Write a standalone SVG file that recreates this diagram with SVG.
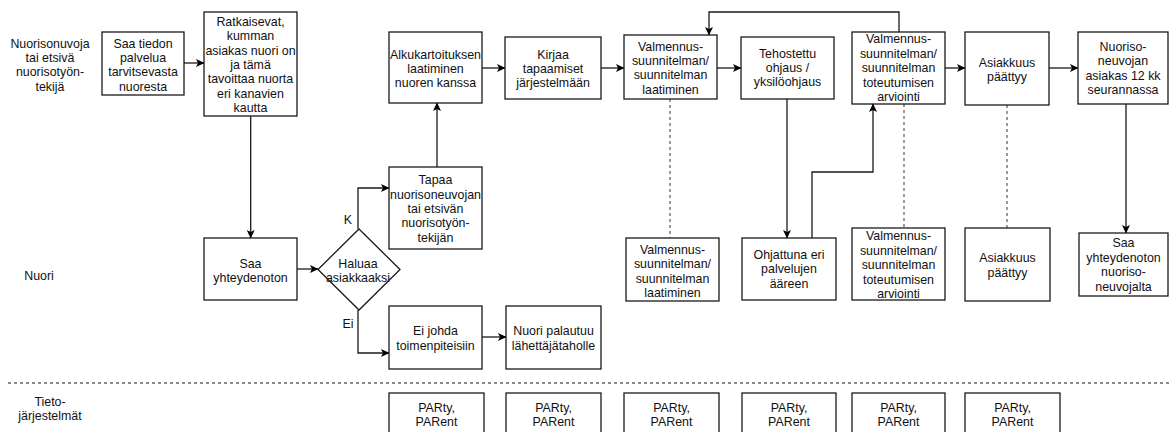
<svg xmlns="http://www.w3.org/2000/svg" width="1169" height="432" viewBox="0 0 1169 432">
  <style>
    .box { fill: #fff; stroke: #1a1a1a; stroke-width: 1.3; }
    .t { font-family: "Liberation Sans", Arial, sans-serif; font-size: 12.4px; fill: #111; text-anchor: middle; }
    .edge { fill: none; stroke: #1a1a1a; stroke-width: 1.3; }
    .dot { fill: none; stroke: #666; stroke-width: 1.3; stroke-dasharray: 3 3; }
  </style>
  <defs>
    <marker id="arrow" markerWidth="9" markerHeight="9" refX="8" refY="4.5" orient="auto" markerUnits="userSpaceOnUse">
      <path d="M0,0.5 L8.5,4.5 L0,8.5 L2,4.5 z" fill="#000"/>
    </marker>
  </defs>

  <rect width="1169" height="432" fill="#fff"/>

  <!-- lane labels -->
  <g id="lane-labels">
    <text class="t" x="50"><tspan x="50" y="47.5">Nuorisonuvoja</tspan><tspan x="50" y="61.9">tai etsivä</tspan><tspan x="50" y="76.3">nuorisotyön-</tspan><tspan x="50" y="90.7">tekijä</tspan></text>
    <text class="t" x="39" y="280">Nuori</text>
    <text class="t"><tspan x="50" y="406">Tieto-</tspan><tspan x="50" y="420">järjestelmät</tspan></text>
  </g>

  <!-- lane separator -->
  <line x1="8" y1="383" x2="1169" y2="383" class="dot"/>

  <!-- connectors -->
  <g id="connectors">
    <line x1="184" y1="63" x2="204" y2="63" class="edge" marker-end="url(#arrow)"/>
    <line x1="250.7" y1="116" x2="250.7" y2="238" class="edge" marker-end="url(#arrow)"/>
    <line x1="297" y1="269" x2="318" y2="269" class="edge" marker-end="url(#arrow)"/>
    <polyline points="358,229 358,188 389,188" class="edge" marker-end="url(#arrow)"/>
    <polyline points="358,310 358,353 389,353" class="edge" marker-end="url(#arrow)"/>
    <line x1="437" y1="167" x2="437" y2="103" class="edge" marker-end="url(#arrow)"/>
    <line x1="482" y1="337" x2="506" y2="337" class="edge" marker-end="url(#arrow)"/>
    <line x1="482" y1="68" x2="505" y2="68" class="edge" marker-end="url(#arrow)"/>
    <line x1="601" y1="68" x2="624" y2="68" class="edge" marker-end="url(#arrow)"/>
    <line x1="717" y1="68" x2="741" y2="68" class="edge" marker-end="url(#arrow)"/>
    <line x1="945" y1="68" x2="965" y2="68" class="edge" marker-end="url(#arrow)"/>
    <line x1="1049" y1="68" x2="1078" y2="68" class="edge" marker-end="url(#arrow)"/>
    <polyline points="899,32 899,12 709,12 709,35" class="edge" marker-end="url(#arrow)"/>
    <line x1="787" y1="99" x2="787" y2="238" class="edge" marker-end="url(#arrow)"/>
    <polyline points="812,238 812,172 873,172 873,104" class="edge" marker-end="url(#arrow)"/>
    <line x1="1126" y1="104" x2="1126" y2="233" class="edge" marker-end="url(#arrow)"/>
    <line x1="670" y1="99" x2="670" y2="238" class="dot"/>
    <line x1="904" y1="104" x2="904" y2="228" class="dot"/>
    <line x1="1007" y1="105" x2="1007" y2="228" class="dot"/>
  </g>

  <!-- youth worker lane -->
  <g id="saa-tiedon">
    <rect class="box" x="102" y="32" width="82" height="63"/>
    <text class="t"><tspan x="143" y="47.5">Saa tiedon</tspan><tspan x="143" y="61.9">palvelua</tspan><tspan x="143" y="76.3">tarvitsevasta</tspan><tspan x="143" y="90.7">nuoresta</tspan></text>
  </g>
  <g id="ratkaisevat">
    <rect class="box" x="204" y="12" width="93" height="104"/>
    <text class="t"><tspan x="250.5" y="25.7">Ratkaisevat,</tspan><tspan x="250.5" y="40.1">kumman</tspan><tspan x="250.5" y="54.5">asiakas nuori on</tspan><tspan x="250.5" y="68.9">ja tämä</tspan><tspan x="250.5" y="83.3">tavoittaa nuorta</tspan><tspan x="250.5" y="97.7">eri kanavien</tspan><tspan x="250.5" y="112.1">kautta</tspan></text>
  </g>
  <g id="alkukartoitus">
    <rect class="box" x="389" y="32" width="93" height="71"/>
    <text class="t"><tspan x="435.5" y="58.5">Alkukartoituksen</tspan><tspan x="435.5" y="72.9">laatiminen</tspan><tspan x="435.5" y="87.3">nuoren kanssa</tspan></text>
  </g>
  <g id="kirjaa">
    <rect class="box" x="505" y="37" width="96" height="62"/>
    <text class="t"><tspan x="553" y="58.5">Kirjaa</tspan><tspan x="553" y="72.9">tapaamiset</tspan><tspan x="553" y="87.3">järjestelmään</tspan></text>
  </g>
  <g id="valmennus-laatiminen">
    <rect class="box" x="624" y="35" width="93" height="64"/>
    <text class="t"><tspan x="670.5" y="50.6">Valmennus-</tspan><tspan x="670.5" y="65">suunnitelman/</tspan><tspan x="670.5" y="79.4">suunnitelman</tspan><tspan x="670.5" y="93.8">laatiminen</tspan></text>
  </g>
  <g id="tehostettu">
    <rect class="box" x="741" y="37" width="93" height="62"/>
    <text class="t"><tspan x="787.5" y="57.5">Tehostettu</tspan><tspan x="787.5" y="71.9">ohjaus /</tspan><tspan x="787.5" y="86.3">yksilöohjaus</tspan></text>
  </g>
  <g id="valmennus-arviointi">
    <rect class="box" x="852" y="32" width="93" height="72"/>
    <text class="t"><tspan x="898.5" y="43.3">Valmennus-</tspan><tspan x="898.5" y="57.7">suunnitelman/</tspan><tspan x="898.5" y="72.1">suunnitelman</tspan><tspan x="898.5" y="86.5">toteutumisen</tspan><tspan x="898.5" y="100.9">arviointi</tspan></text>
  </g>
  <g id="asiakkuus-paattyy">
    <rect class="box" x="965" y="32" width="84" height="73"/>
    <text class="t"><tspan x="1007" y="66.8">Asiakkuus</tspan><tspan x="1007" y="81.2">päättyy</tspan></text>
  </g>
  <g id="seuranta">
    <rect class="box" x="1078" y="32" width="90" height="72"/>
    <text class="t"><tspan x="1123" y="50.8">Nuoriso-</tspan><tspan x="1123" y="65.2">neuvojan</tspan><tspan x="1123" y="79.6">asiakas 12 kk</tspan><tspan x="1123" y="94">seurannassa</tspan></text>
  </g>

  <!-- youth lane -->
  <g id="saa-yhteydenoton">
    <rect class="box" x="204" y="238" width="93" height="62"/>
    <text class="t"><tspan x="250.5" y="267.5">Saa</tspan><tspan x="250.5" y="281.9">yhteydenoton</tspan></text>
  </g>
  <g id="haluaa-asiakkaaksi">
    <polygon class="box" points="359,229 400,269.5 359,310 318,269.5"/>
    <text class="t"><tspan x="358" y="267.5">Haluaa</tspan><tspan x="358" y="281.9">asiakkaaksi</tspan></text>
    <text class="t" x="348" y="223.5">K</text>
    <text class="t" x="348" y="327.5">Ei</text>
  </g>
  <g id="tapaa">
    <rect class="box" x="389" y="167" width="93" height="82"/>
    <text class="t"><tspan x="435.5" y="184.2">Tapaa</tspan><tspan x="435.5" y="198.6">nuorisoneuvojan</tspan><tspan x="435.5" y="213">tai etsivän</tspan><tspan x="435.5" y="227.4">nuorisotyön-</tspan><tspan x="435.5" y="241.8">tekijän</tspan></text>
  </g>
  <g id="ei-johda">
    <rect class="box" x="389" y="306" width="93" height="63"/>
    <text class="t"><tspan x="435.5" y="335.2">Ei johda</tspan><tspan x="435.5" y="349.6">toimenpiteisiin</tspan></text>
  </g>
  <g id="palautuu">
    <rect class="box" x="506" y="306" width="95" height="63"/>
    <text class="t"><tspan x="553.5" y="335.2">Nuori palautuu</tspan><tspan x="553.5" y="349.6">lähettäjätaholle</tspan></text>
  </g>
  <g id="nuori-valmennus-laatiminen">
    <rect class="box" x="626" y="238" width="93" height="63"/>
    <text class="t"><tspan x="672.5" y="253.8">Valmennus-</tspan><tspan x="672.5" y="268.2">suunnitelman/</tspan><tspan x="672.5" y="282.6">suunnitelman</tspan><tspan x="672.5" y="297">laatiminen</tspan></text>
  </g>
  <g id="ohjattuna">
    <rect class="box" x="742" y="238" width="94" height="62"/>
    <text class="t"><tspan x="789" y="259">Ohjattuna eri</tspan><tspan x="789" y="273.4">palvelujen</tspan><tspan x="789" y="287.8">ääreen</tspan></text>
  </g>
  <g id="nuori-valmennus-arviointi">
    <rect class="box" x="852" y="228" width="93" height="72"/>
    <text class="t"><tspan x="898.5" y="240">Valmennus-</tspan><tspan x="898.5" y="254.6">suunnitelman/</tspan><tspan x="898.5" y="269.2">suunnitelman</tspan><tspan x="898.5" y="283.8">toteutumisen</tspan><tspan x="898.5" y="298.4">arviointi</tspan></text>
  </g>
  <g id="nuori-asiakkuus-paattyy">
    <rect class="box" x="965" y="228" width="85" height="73"/>
    <text class="t"><tspan x="1007.5" y="262.4">Asiakkuus</tspan><tspan x="1007.5" y="276.8">päättyy</tspan></text>
  </g>
  <g id="saa-yhteydenoton-neuvojalta">
    <rect class="box" x="1079" y="233" width="89" height="63"/>
    <text class="t"><tspan x="1123.5" y="247.4">Saa</tspan><tspan x="1123.5" y="261.8">yhteydenoton</tspan><tspan x="1123.5" y="276.2">nuoriso-</tspan><tspan x="1123.5" y="290.6">neuvojalta</tspan></text>
  </g>

  <!-- information systems lane -->
  <g id="party-1">
    <rect class="box" x="389" y="393" width="95" height="62"/>
    <text class="t"><tspan x="436.5" y="412">PARty,</tspan><tspan x="436.5" y="426">PARent</tspan></text>
  </g>
  <g id="party-2">
    <rect class="box" x="506" y="393" width="95" height="62"/>
    <text class="t"><tspan x="553.5" y="412">PARty,</tspan><tspan x="553.5" y="426">PARent</tspan></text>
  </g>
  <g id="party-3">
    <rect class="box" x="624" y="393" width="95" height="62"/>
    <text class="t"><tspan x="671.5" y="412">PARty,</tspan><tspan x="671.5" y="426">PARent</tspan></text>
  </g>
  <g id="party-4">
    <rect class="box" x="742" y="393" width="94" height="62"/>
    <text class="t"><tspan x="789" y="412">PARty,</tspan><tspan x="789" y="426">PARent</tspan></text>
  </g>
  <g id="party-5">
    <rect class="box" x="852" y="393" width="93" height="62"/>
    <text class="t"><tspan x="898.5" y="412">PARty,</tspan><tspan x="898.5" y="426">PARent</tspan></text>
  </g>
  <g id="party-6">
    <rect class="box" x="965" y="393" width="95" height="62"/>
    <text class="t"><tspan x="1012.5" y="412">PARty,</tspan><tspan x="1012.5" y="426">PARent</tspan></text>
  </g>
</svg>
